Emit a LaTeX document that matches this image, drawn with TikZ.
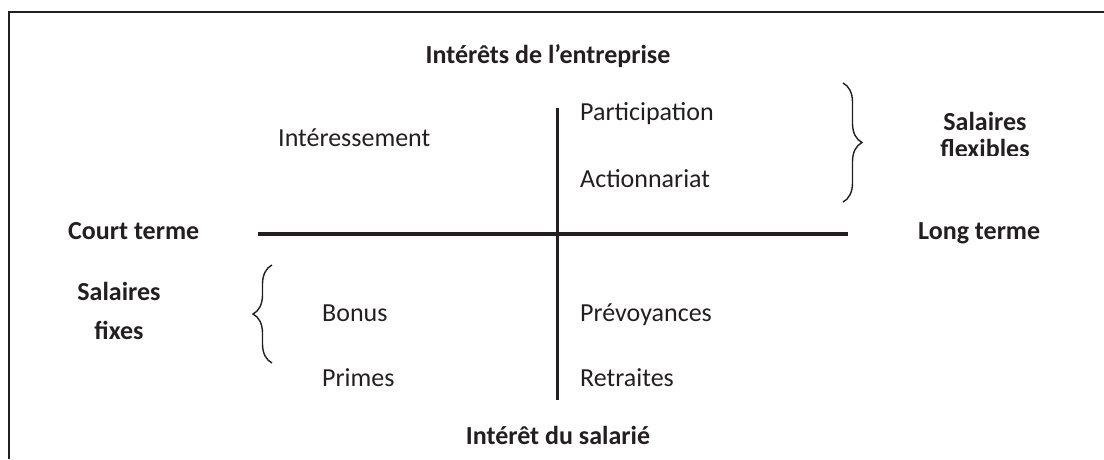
\documentclass[tikz,border=0pt]{standalone}
\usepackage{fontspec}
\setmainfont{Carlito}
\usetikzlibrary{decorations.pathreplacing}
\definecolor{ink}{HTML}{231F20}
\begin{document}
\begin{tikzpicture}[x=1pt,y=-1pt,
  lbl/.style={inner sep=0pt,text=ink,font=\fontsize{26}{31}\selectfont},
  blbl/.style={lbl,font=\fontsize{26}{31}\selectfont\bfseries},
  axis/.style={draw=ink,line width=3.5pt},
  frame/.style={draw=ink,line width=2pt},
  bracestyle/.style={draw=ink,line width=1.4pt,decorate,decoration={brace,amplitude=19pt}}]
\useasboundingbox (0,0) rectangle (1104,459);
% frame (top and left only)
\coordinate (fr) at (1104,12);
\coordinate (fc) at (8.5,12);
\coordinate (fb) at (8.5,459);
\draw[frame] (fr) -- (fc) -- (fb);
% axes
\coordinate (hl) at (258,234);
\coordinate (hr) at (848,234);
\coordinate (vt) at (557.5,108);
\coordinate (vb) at (557.5,400);
\draw[axis] (hl) -- (hr);
\draw[axis] (vt) -- (vb);
% axis labels
\node[blbl,anchor=base] (top) at (548,63) {Intérêts de l’entreprise};
\node[blbl,anchor=base] (bot) at (558,444) {Intérêt du salarié};
\node[blbl,anchor=base west] (court) at (68,239) {Court terme};
\node[blbl,anchor=base west] (long) at (918,239) {Long terme};
% quadrant items
\node[lbl,anchor=base west] (inter) at (278,146) {Intéressement};
\node[lbl,anchor=base west] (part) at (580,120) {Participation};
\node[lbl,anchor=base west] (act) at (580,187) {Actionnariat};
\node[lbl,anchor=base west] (bonus) at (322,321) {Bonus};
\node[lbl,anchor=base west] (primes) at (322,386) {Primes};
\node[lbl,anchor=base west] (prev) at (580,321) {Prévoyances};
\node[lbl,anchor=base west] (retr) at (580,386) {Retraites};
% braces
\coordinate (rbt) at (843,83);
\coordinate (rbb) at (843,202);
\draw[bracestyle] (rbt) -- (rbb);
\coordinate (lbb) at (272,363);
\coordinate (lbt) at (272,265);
\draw[bracestyle] (lbb) -- (lbt);
% salary groups
\node[blbl,anchor=base] (sf1) at (985,130) {Salaires};
\begin{scope}
\clip (900,135) rectangle (1080,155);
\node[blbl,anchor=base] (sf2) at (985,157) {flexibles};
\end{scope}
\node[blbl,anchor=base] (sx1) at (119,300) {Salaires};
\node[blbl,anchor=base] (sx2) at (119,339) {fixes};
\end{tikzpicture}
\end{document}
